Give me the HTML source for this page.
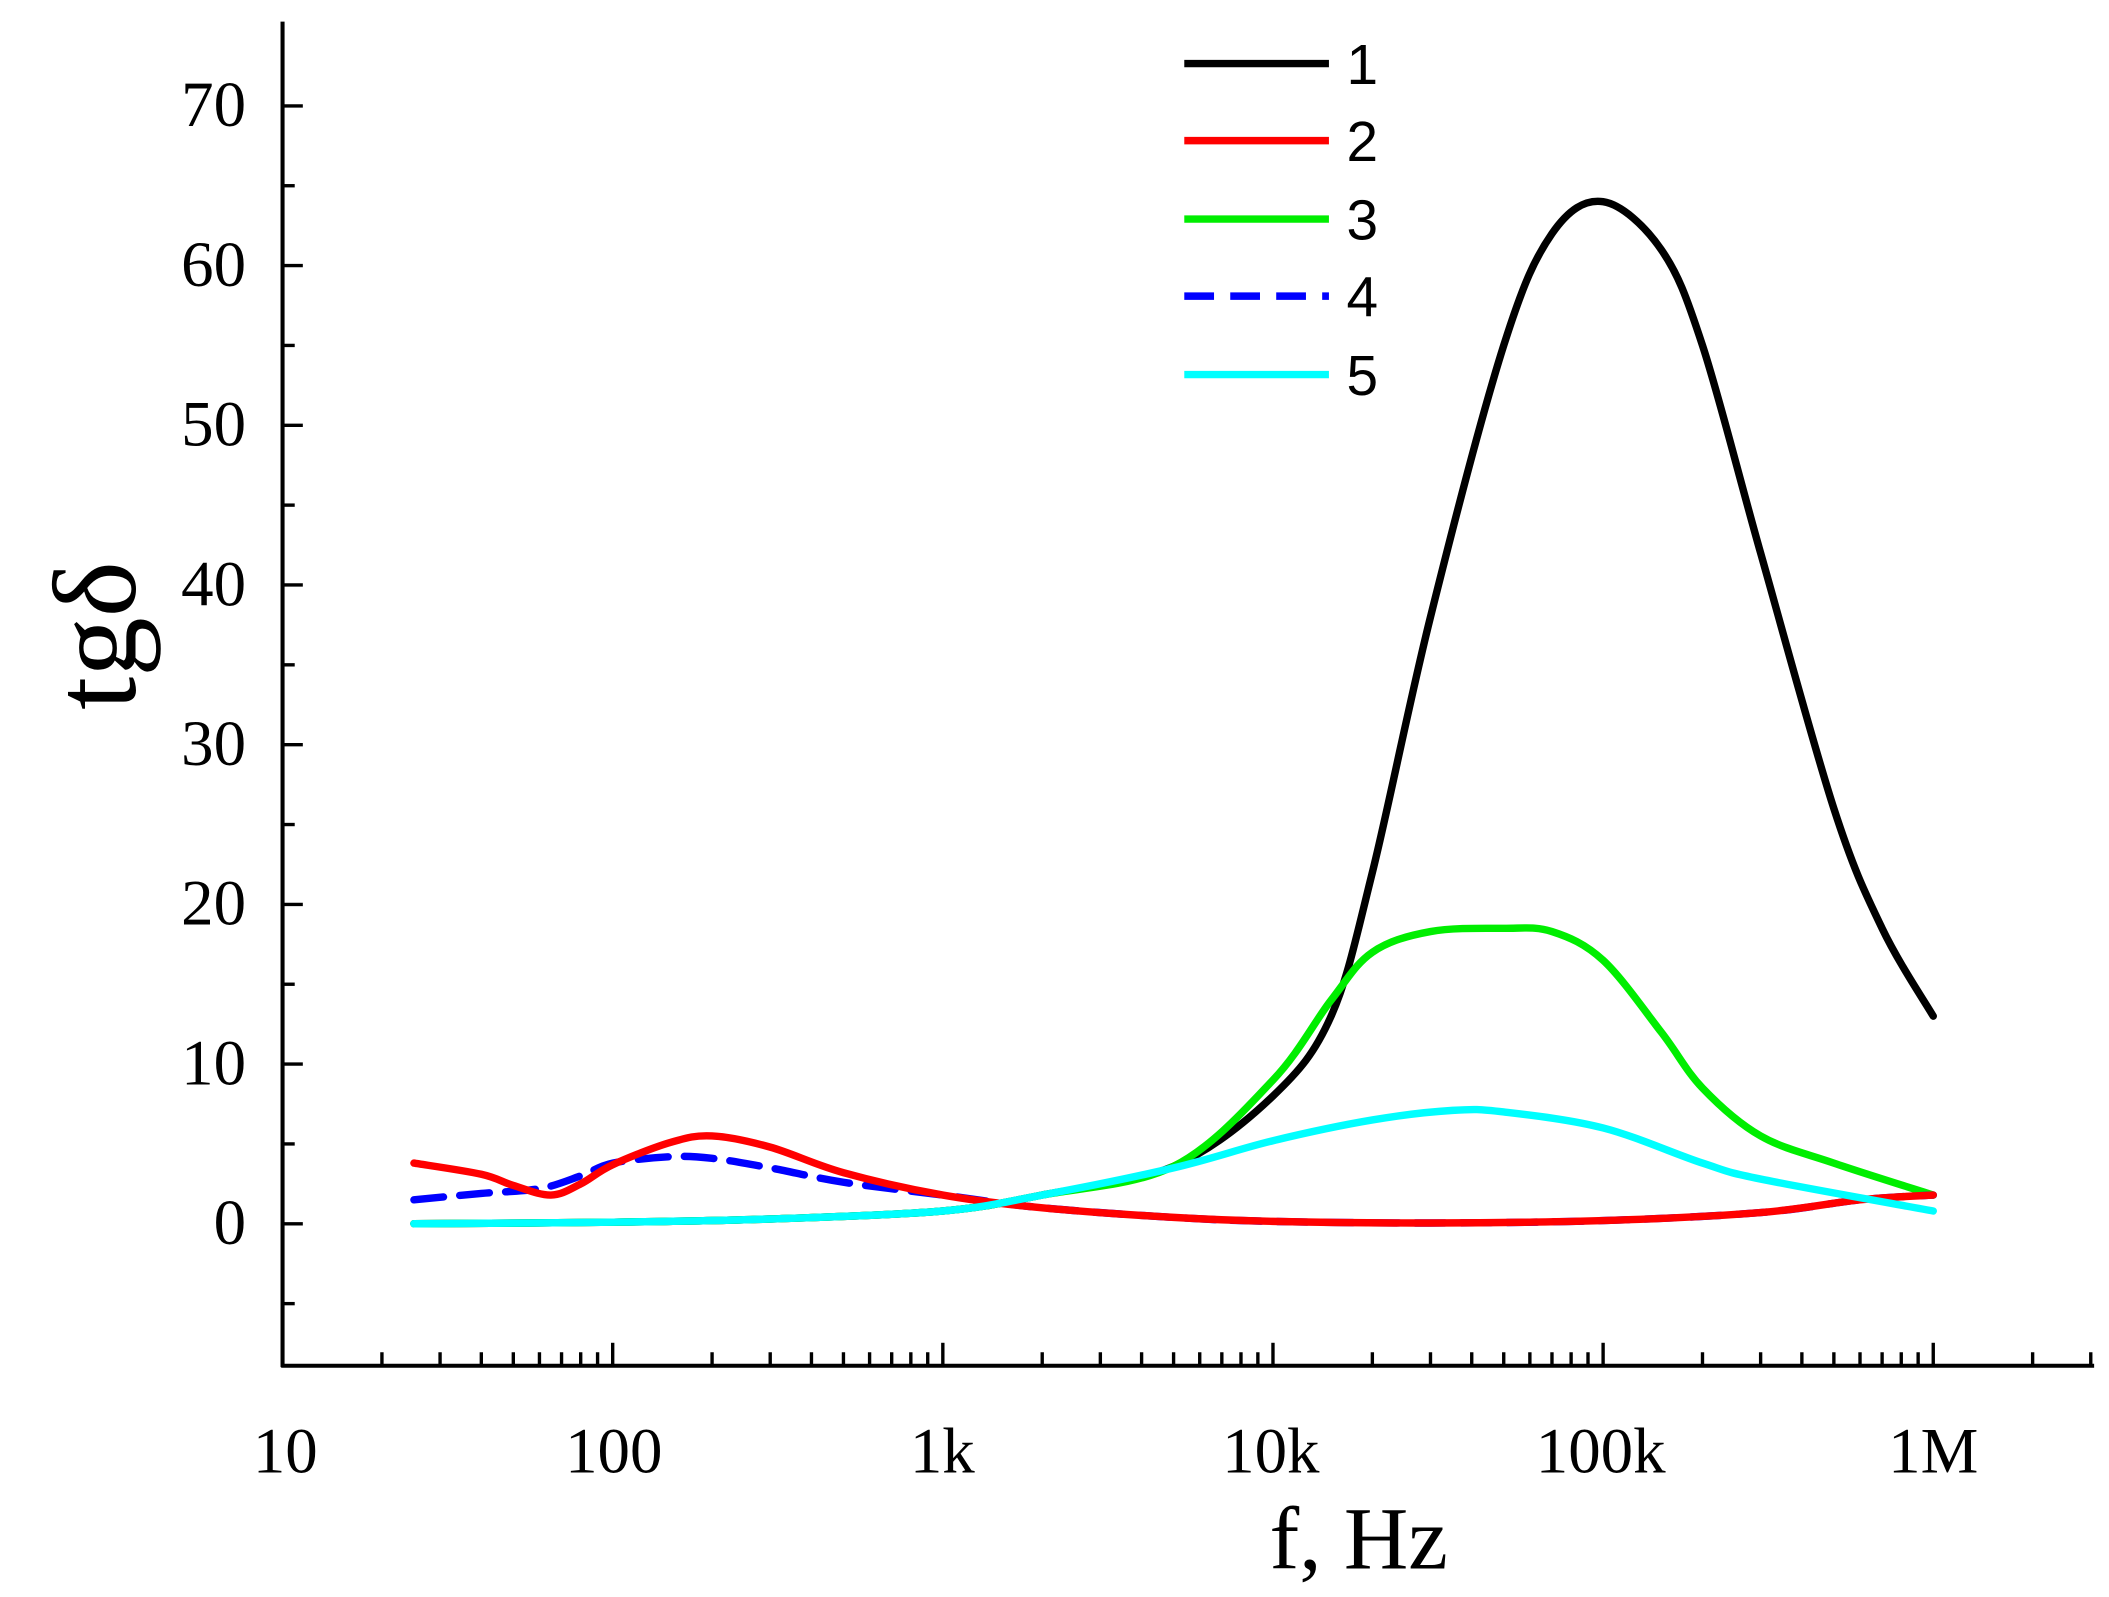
<!DOCTYPE html>
<html><head><meta charset="utf-8"><style>
html,body{margin:0;padding:0;background:#fff;}
svg{display:block;}
</style></head><body>
<svg id="s" width="2109" height="1597" viewBox="0 0 1560 1181" preserveAspectRatio="none" xmlns="http://www.w3.org/2000/svg">
<g stroke="#000" stroke-width="3" fill="none">
<line x1="209" y1="16" x2="209" y2="1011"/>
<line x1="208" y1="1010" x2="1549" y2="1010"/>
</g>
<g id="ticks" stroke="#000" stroke-width="2.5"></g>
<g font-family="Liberation Serif, serif" font-size="48" fill="#000" text-anchor="end" id="ylab"></g>
<g font-family="Liberation Serif, serif" font-size="48" fill="#000" text-anchor="middle">
<text x="211" y="1089">10</text><text x="454" y="1089">100</text><text x="697" y="1089">1k</text>
<text x="940" y="1089">10k</text><text x="1184" y="1089">100k</text><text x="1430" y="1089">1M</text>
<text x="1005" y="1160" font-size="66">f, Hz</text>
</g>
<text transform="translate(100,470) rotate(-90)" font-family="Liberation Serif, serif" font-size="88" text-anchor="middle">tgδ</text>
<g id="curves" fill="none" stroke-width="5.5" stroke-linejoin="round" stroke-linecap="round"></g>
<g stroke-width="5.5">
<line x1="876" y1="47" x2="983" y2="47" stroke="#000"/>
<line x1="876" y1="104" x2="983" y2="104" stroke="#f00"/>
<line x1="876" y1="162" x2="983" y2="162" stroke="#0e0"/>
<line x1="876" y1="219" x2="983" y2="219" stroke="#00f" stroke-dasharray="22,12"/>
<line x1="876" y1="277" x2="983" y2="277" stroke="#0ff"/>
</g>
<g font-family="Liberation Sans, sans-serif" font-size="42" fill="#000">
<text x="996" y="62">1</text><text x="996" y="119">2</text><text x="996" y="177">3</text><text x="996" y="234">4</text><text x="996" y="292">5</text>
</g>
</svg>
<script>
var NS="http://www.w3.org/2000/svg";
function X(f){return 209+(Math.log10(f)-1)*244.2;}
function Y(v){return 905-v*11.81;}
var t=document.getElementById('ticks'),yl=document.getElementById('ylab');
function ln(a,b,c,d){var l=document.createElementNS(NS,'line');l.setAttribute('x1',a);l.setAttribute('y1',b);l.setAttribute('x2',c);l.setAttribute('y2',d);t.appendChild(l);}
for(var v=-5;v<=70;v+=5){var y=Y(v);ln(209,y,v%10==0?224:218,y);
 if(v%10==0&&v>=0){var tx=document.createElementNS(NS,'text');tx.setAttribute('x',182);tx.setAttribute('y',y+15);tx.textContent=v;yl.appendChild(tx);}}
for(var d=1;d<=6;d++){for(var k=1;k<=9;k++){var f=k*Math.pow(10,d);var x=X(f);if(x>1549)break;ln(x,1010,x,k==1?993:1000);}}
function path(pts,col,dash){
 var P=pts.map(function(p){return [X(p[0]),Y(p[1])];});
 var d="M"+P[0][0]+","+P[0][1];
 for(var i=0;i<P.length-1;i++){var p0=P[i-1]||P[i],p1=P[i],p2=P[i+1],p3=P[i+2]||P[i+1];
  d+=" C"+(p1[0]+(p2[0]-p0[0])/6)+","+(p1[1]+(p2[1]-p0[1])/6)+" "+(p2[0]-(p3[0]-p1[0])/6)+","+(p2[1]-(p3[1]-p1[1])/6)+" "+p2[0]+","+p2[1];}
 var e=document.createElementNS(NS,'path');e.setAttribute('d',d);e.setAttribute('stroke',col);if(dash)e.setAttribute('stroke-dasharray',dash);
 document.getElementById('curves').appendChild(e);}
var base=[[25,0],[100,0.1],[300,0.3],[1000,0.8],[2000,1.8],[5000,3.6]];
path(base.concat([[10000,8],[15000,13],[20000,22],[30000,38],[50000,55],[70000,62],[100000,64],[150000,61],[200000,55],[300000,42],[500000,26],[700000,18.5],[1000000,13]]),"#000");
path(base.concat([[10000,9],[15000,14],[20000,17],[30000,18.3],[50000,18.5],[70000,18.3],[100000,16.5],[150000,12],[200000,8.5],[300000,5.5],[500000,3.8],[1000000,1.8]]),"#0e0");
var tail=[[2000,1],[5000,0.4],[10000,0.15],[30000,0.05],[100000,0.2],[300000,0.7],[600000,1.5],[1000000,1.8]];
path([[25,1.5],[40,1.9],[60,2.2],[80,3],[100,3.8],[150,4.2],[200,4.1],[300,3.5],[500,2.6],[1000,1.8]].concat(tail),"#00f","22,12");
path([[25,3.8],[40,3.1],[50,2.4],[65,1.8],[80,2.5],[100,3.7],[150,5.1],[200,5.5],[300,4.8],[500,3.2],[1000,1.8]].concat(tail),"#f00");
path([[25,0],[100,0.1],[300,0.3],[1000,0.8],[2000,1.8],[5000,3.5],[10000,5.2],[20000,6.5],[35000,7.1],[50000,7],[100000,6],[200000,3.8],[300000,2.8],[1000000,0.8]],"#0ff");
</script>
</body></html>
